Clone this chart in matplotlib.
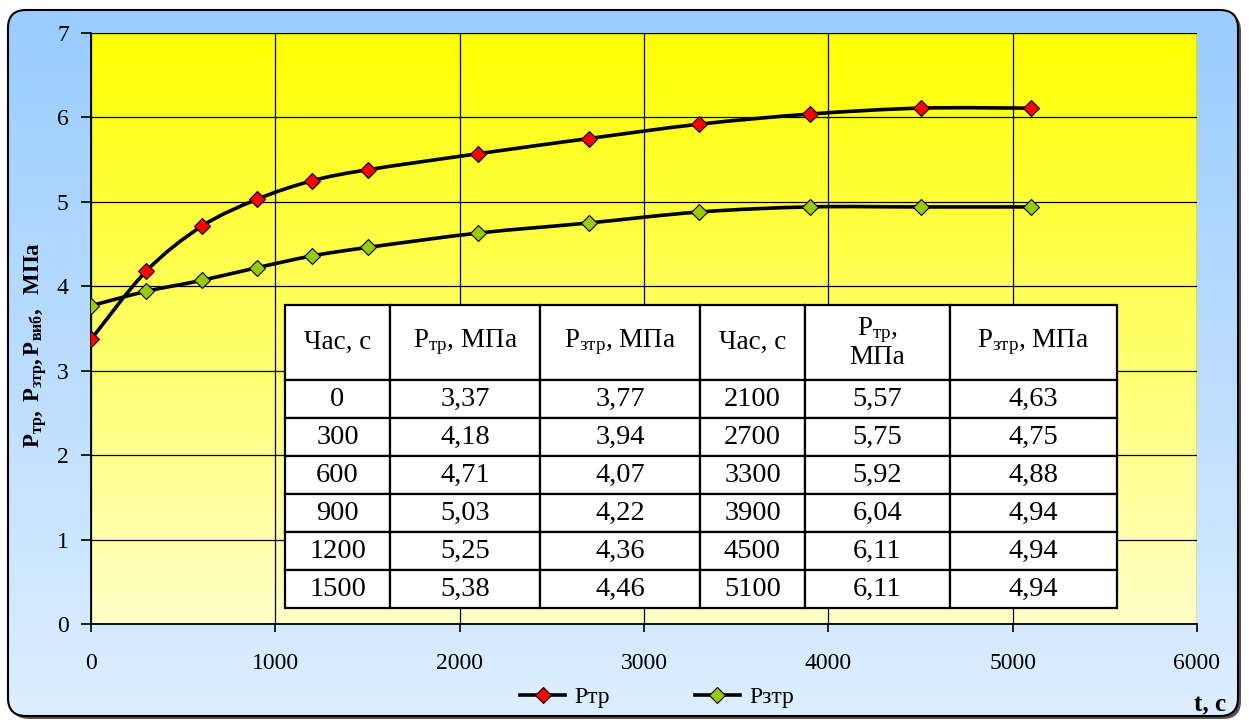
import numpy as np
import matplotlib
matplotlib.use('Agg')
import matplotlib.pyplot as plt
from matplotlib.patches import FancyBboxPatch, PathPatch
from matplotlib.path import Path
from matplotlib.colors import LinearSegmentedColormap

# ---------------- data ----------------
time_s = [0, 300, 600, 900, 1200, 1500, 2100, 2700, 3300, 3900, 4500, 5100]
p_tr = [3.37, 4.18, 4.71, 5.03, 5.25, 5.38, 5.57, 5.75, 5.92, 6.04, 6.11, 6.11]
p_ztr = [3.77, 3.94, 4.07, 4.22, 4.36, 4.46, 4.63, 4.75, 4.88, 4.94, 4.94, 4.94]
series_names = ['Ртр', 'Рзтр']
x_ticks = [0, 1000, 2000, 3000, 4000, 5000, 6000]
y_ticks = [0, 1, 2, 3, 4, 5, 6, 7]
table_header = ['Час, с', 'P$_{\\mathrm{тр}}$, МПа', 'P$_{\\mathrm{зтр}}$, МПа',
                'Час, с', 'P$_{\\mathrm{тр}}$,\nМПа', 'P$_{\\mathrm{зтр}}$, МПа']

plt.rcParams['font.family'] = ['Liberation Serif', 'DejaVu Serif']
plt.rcParams['mathtext.fontset'] = 'custom'
plt.rcParams['mathtext.rm'] = 'Liberation Serif'
plt.rcParams['mathtext.it'] = 'Liberation Serif:italic'
plt.rcParams['mathtext.bf'] = 'Liberation Serif:bold'

W, H = 1249, 720
fig = plt.figure(figsize=(W / 100, H / 100), dpi=100)
fig.patch.set_facecolor('white')

# ---------------- rounded gradient background ----------------
bg = fig.add_axes([0, 0, 1, 1], zorder=-10)
bg.set_xlim(0, W)
bg.set_ylim(H, 0)
bg.axis('off')
shadow = FancyBboxPatch((11, 13), 1230, 706, boxstyle='round,pad=0,rounding_size=18',
                        facecolor='#555555', edgecolor='none')
bg.add_patch(shadow)
box = FancyBboxPatch((8, 10), 1230, 706, boxstyle='round,pad=0,rounding_size=18',
                     facecolor='none', edgecolor='black', linewidth=1.5, zorder=3)
bg.add_patch(box)
blue_cmap = LinearSegmentedColormap.from_list('b', ['#99CCFF', '#DDEEFF'])
grad = np.linspace(0, 1, 256).reshape(-1, 1)
im = bg.imshow(grad, extent=[8, 1238, 716, 10], cmap=blue_cmap, aspect='auto', zorder=2)
clip = FancyBboxPatch((8, 10), 1230, 706, boxstyle='round,pad=0,rounding_size=18',
                      facecolor='none', edgecolor='none', transform=bg.transData)
im.set_clip_path(clip)

# ---------------- main axes ----------------
ax = fig.add_axes([91 / W, 1 - 624 / H, (1197 - 91) / W, (624 - 33) / H])
ax.set_xlim(0, 6000)
ax.set_ylim(0, 7)
yel_cmap = LinearSegmentedColormap.from_list('y', ['#FFFF00', '#FFFFC8'])
ax.imshow(grad, extent=[0, 6000, 0, 7], cmap=yel_cmap, aspect='auto', zorder=0)
ax.set_aspect('auto')
ax.set_axisbelow(True)
ax.grid(True, color='black', linewidth=0.9)
for s in ['top', 'right']:
    ax.spines[s].set_visible(False)
for s in ['left', 'bottom']:
    ax.spines[s].set_linewidth(1.3)
ax.set_xticks(x_ticks)
ax.set_yticks(y_ticks)
ax.tick_params(axis='x', direction='out', length=6, width=1.2, pad=15, labelsize=17)
ax.tick_params(axis='y', direction='out', length=7, width=1.2, pad=9, labelsize=17)


def smooth_path(xs, ys):
    pts = np.column_stack([xs, ys]).astype(float)
    verts = [tuple(pts[0])]
    codes = [Path.MOVETO]
    n = len(pts)
    for i in range(n - 1):
        p0 = pts[i - 1] if i > 0 else pts[i]
        p1 = pts[i]
        p2 = pts[i + 1]
        p3 = pts[i + 2] if i + 2 < n else pts[i + 1]
        c1 = p1 + (p2 - p0) / 6.0
        c2 = p2 - (p3 - p1) / 6.0
        verts += [tuple(c1), tuple(c2), tuple(p2)]
        codes += [Path.CURVE4] * 3
    return Path(verts, codes)


for ys, col, name in [(p_tr, '#FF0000', series_names[0]), (p_ztr, '#99CC00', series_names[1])]:
    ax.add_patch(PathPatch(smooth_path(time_s, ys), facecolor='none', edgecolor='black',
                           linewidth=2.6, zorder=3))
    ax.plot(time_s, ys, linestyle='none', marker='D', markersize=8.5,
            markerfacecolor=col, markeredgecolor='black', markeredgewidth=0.8, zorder=4)
    ax.plot([], [], color='black', linewidth=2.6, marker='D', markersize=8.5,
            markerfacecolor=col, markeredgecolor='black', markeredgewidth=0.8, label=name)

# ---------------- table ----------------
rows = []
for i in range(6):
    j = i + 6
    rows.append([str(time_s[i]), f'{p_tr[i]:.2f}'.replace('.', ','), f'{p_ztr[i]:.2f}'.replace('.', ','),
                 str(time_s[j]), f'{p_tr[j]:.2f}'.replace('.', ','), f'{p_ztr[j]:.2f}'.replace('.', ',')])
col_px = [105, 150, 160, 105, 145, 167]
tot = sum(col_px)
tbl = ax.table(cellText=rows, colLabels=table_header, colWidths=[c / tot for c in col_px],
               cellLoc='center', bbox=[194 / 1106, 16 / 591, 832 / 1106, 303 / 591], zorder=5)
tbl.auto_set_font_size(False)
for (r, c), cell in tbl.get_celld().items():
    cell.set_facecolor('white')
    cell.set_edgecolor('black')
    cell.set_linewidth(1.6)
    cell.set_height(75 if r == 0 else 38)
    cell.get_text().set_fontsize(20.5 if r > 0 else 19.5)
    if r == 0:
        cell.get_text().set_linespacing(1.0)

# ---------------- labels & legend ----------------
fig.text(36 / W, 1 - 345 / H,
         r'$\mathbf{P}_{\mathbf{тр}}\mathbf{,\ P}_{\mathbf{зтр}}\mathbf{,P}_{\mathbf{виб}}\mathbf{,\ \ МПа}$',
         rotation=90, ha='center', va='center', fontsize=16.5)
fig.text(1226 / W, 1 - 705 / H, 't, с', fontsize=18, fontweight='bold', ha='right', va='center')
fig.legend(loc='center', bbox_to_anchor=(657 / W, 1 - 697 / H), ncol=2, frameon=False,
           fontsize=17, handlelength=1.9, columnspacing=3.6, handletextpad=0.4)

fig.savefig('out.png', dpi=100)
